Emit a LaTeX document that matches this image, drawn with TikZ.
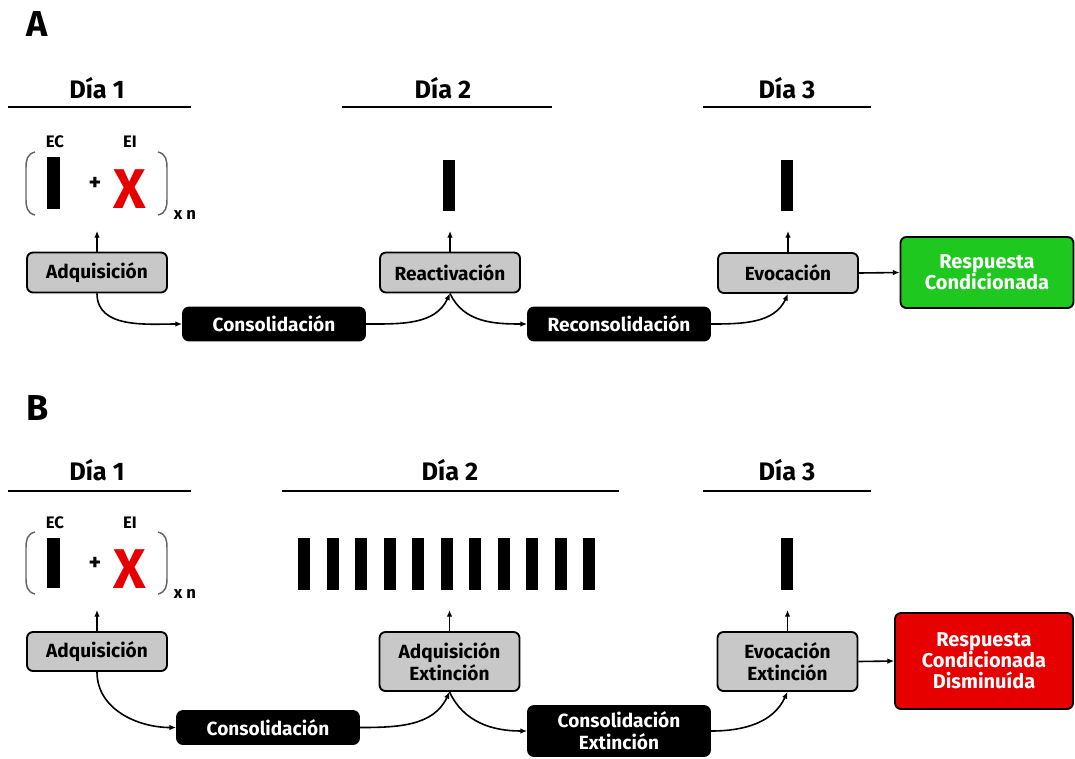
\documentclass[tikz,border=0pt]{standalone}
\usepackage{fontspec}
\setmainfont{Fira Sans}
\usetikzlibrary{arrows.meta}
\definecolor{boxgray}{RGB}{200,200,200}
\definecolor{respgreen}{RGB}{30,200,30}
\definecolor{respred}{RGB}{230,0,0}
\definecolor{pargray}{RGB}{100,100,100}
\tikzset{
  base/.style={rounded corners=4.5pt, line width=1.4pt, inner sep=0pt, align=center,
    font=\fontsize{14.3}{16.5}\selectfont\bfseries},
  graybox/.style={base, draw=black, fill=boxgray, text=black},
  blackbox/.style={base, draw=black, fill=black, text=white},
  greenbox/.style={base, draw=black, fill=respgreen, text=white, font=\fontsize{15}{16}\selectfont\bfseries},
  redbox/.style={base, draw=black, fill=respred, text=white, font=\fontsize{15}{15.6}\selectfont\bfseries},
  arr/.style={line width=1.2pt, -{Latex[length=5pt,width=4.2pt]}},
  dayrule/.style={line width=2pt},
  daylabel/.style={font=\fontsize{19}{21}\selectfont\bfseries, inner sep=0pt},
  panel/.style={font=\fontsize{27}{30}\selectfont\bfseries, inner sep=0pt},
  small/.style={font=\fontsize{12.5}{14}\selectfont\bfseries, inner sep=0pt},
  bar/.style={fill=black},
  paren/.style={draw=pargray, line width=1.1pt},
  plus/.style={font=\fontsize{18}{20}\selectfont\bfseries, inner sep=0pt},
  bigx/.style={font=\fontsize{42}{44}\selectfont\bfseries, text=respred, inner sep=0pt},
}
\begin{document}
\begin{tikzpicture}[x=0.75pt,y=-0.75pt]
\useasboundingbox (0,0) rectangle (1075,758);

% ================= Panel A =================
\node[panel] (labA) at (37.5,24) {A};
\node[daylabel] (d1A) at (97,88) {Día 1};
\node[daylabel] (d2A) at (443,88) {Día 2};
\node[daylabel] (d3A) at (787,88) {Día 3};
\draw[dayrule] (8,107) -- (191,107);
\draw[dayrule] (342,107) -- (552,107);
\draw[dayrule] (703,107) -- (871,107);

\node[small] (ecA) at (55,142) {EC};
\node[small] (eiA) at (130,142) {EI};
\fill[bar] (47,157) rectangle (60,209);
\node[plus] (plusA) at (95,184) {+};
\node[bigx] (xA) at (130,189) {X};
\draw[paren] (35,152) .. controls (27,154) and (26,160) .. (26,168) -- (26,199) .. controls (26,207) and (27,213) .. (35,215);
\draw[paren] (158,152) .. controls (166,154) and (167,160) .. (167,168) -- (167,199) .. controls (167,207) and (166,213) .. (158,215);
\node[small] (xnA) at (185,215) {x n};
\fill[bar] (443,160) rectangle (455,211);
\fill[bar] (781,160) rectangle (793,211);

\node[graybox, minimum width=105pt, minimum height=30pt] (adqA) at (97,272.5) {Adquisición};
\node[graybox, minimum width=105pt, minimum height=30pt] (reacA) at (450,272.5) {Reactivación};
\node[graybox, minimum width=105pt, minimum height=30pt] (evoA) at (788,273) {Evocación};
\node[greenbox, minimum width=129.75pt, minimum height=53.25pt] (respA) at (987,272.5) {Respuesta\\Condicionada};
\node[blackbox, minimum width=136.5pt, minimum height=24.75pt] (consA) at (274,324) {Consolidación};
\node[blackbox, minimum width=136.5pt, minimum height=24.75pt] (reconsA) at (619,324) {Reconsolidación};

\coordinate (adqAup) at (97,231);
\coordinate (reacAup) at (450,231);
\coordinate (evoAup) at (788,231);
\draw[arr] (adqA.north) -- (adqAup);
\draw[arr] (reacA.north) -- (reacAup);
\draw[arr] (evoA.north) -- (evoAup);
\draw[arr] (evoA.east) -- (respA.west);
\draw[arr] (adqA.south) to[out=-90,in=180] (consA.west);
\draw[arr] (consA.east) to[out=0,in=-115] (reacA.south);
\draw[arr] (reacA.south) to[out=-65,in=180] (reconsA.west);
\draw[arr] (reconsA.east) to[out=0,in=-115] (evoA.south);

% ================= Panel B =================
\node[panel] (labB) at (37.5,408) {B};
\node[daylabel] (d1B) at (97,470) {Día 1};
\node[daylabel] (d2B) at (450,470) {Día 2};
\node[daylabel] (d3B) at (787,470) {Día 3};
\draw[dayrule] (8,491) -- (191,491);
\draw[dayrule] (282,491) -- (619,491);
\draw[dayrule] (703,491) -- (871,491);

\node[small] (ecB) at (55,523) {EC};
\node[small] (eiB) at (130,523) {EI};
\fill[bar] (47,538) rectangle (60,588);
\node[plus] (plusB) at (95,564) {+};
\node[bigx] (xB) at (130,569) {X};
\draw[paren] (35,532) .. controls (27,534) and (26,540) .. (26,548) -- (26,578) .. controls (26,586) and (27,592) .. (35,594);
\draw[paren] (158,532) .. controls (166,534) and (167,540) .. (167,548) -- (167,578) .. controls (167,586) and (166,592) .. (158,594);
\node[small] (xnB) at (185,594) {x n};
\foreach \i in {0,...,10} {
  \fill[bar] (298+28.5*\i,538) rectangle (310+28.5*\i,590);
}
\fill[bar] (781,538) rectangle (793,590);

\node[graybox, minimum width=105pt, minimum height=29.25pt] (adqB) at (97,651.5) {Adquisición};
\node[graybox, minimum width=105pt, minimum height=44.25pt] (adqextB) at (449.5,661.5) {Adquisición\\Extinción};
\node[graybox, minimum width=105pt, minimum height=44.25pt] (evoextB) at (787.5,661.5) {Evocación\\Extinción};
\node[redbox, minimum width=133.5pt, minimum height=72pt] (respB) at (984,661) {Respuesta\\Condicionada\\Disminuída};
\node[blackbox, minimum width=136.5pt, minimum height=24.75pt] (consB) at (268,727.5) {Consolidación};
\node[blackbox, minimum width=136.5pt, minimum height=37.5pt] (consextB) at (619,731) {Consolidación\\Extinción};

\coordinate (adqBup) at (97,610);
\coordinate (adqextBup) at (449.5,610);
\coordinate (evoextBup) at (787.5,610);
\draw[arr] (adqB.north) -- (adqBup);
\draw[arr] (adqextB.north) -- (adqextBup);
\draw[arr] (evoextB.north) -- (evoextBup);
\draw[arr] (evoextB.east) -- (respB.west);
\draw[arr] (adqB.south) to[out=-90,in=180] (consB.west);
\draw[arr] (consB.east) to[out=0,in=-115] (adqextB.south);
\draw[arr] (adqextB.south) to[out=-65,in=180] (consextB.west);
\draw[arr] (consextB.east) to[out=0,in=-115] (evoextB.south);
\end{tikzpicture}
\end{document}
